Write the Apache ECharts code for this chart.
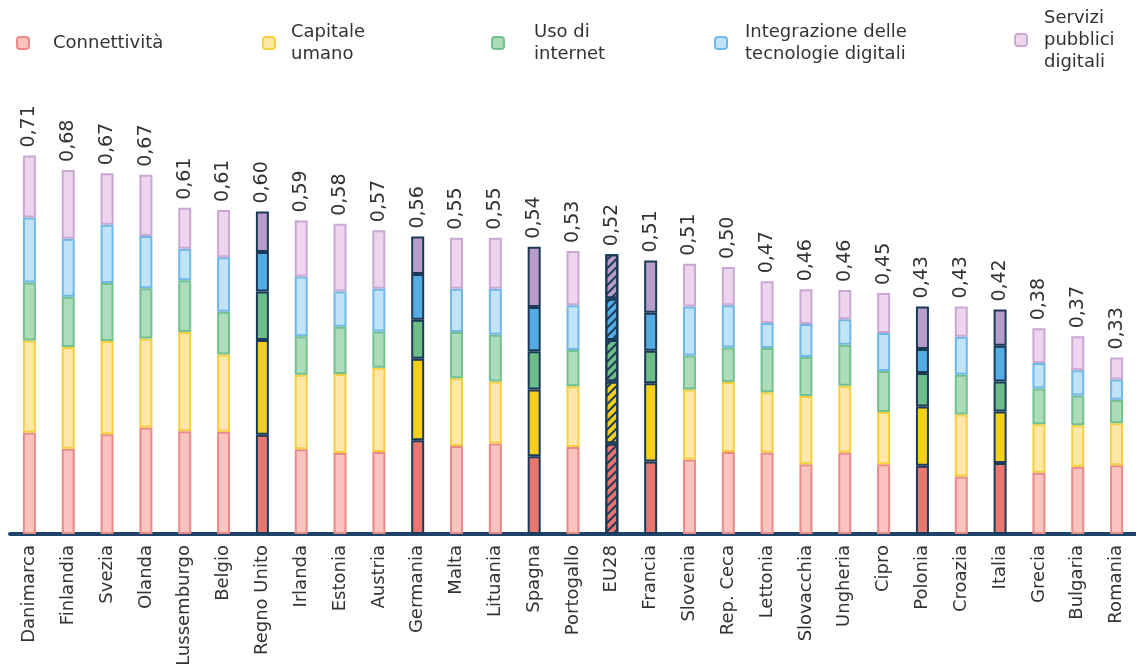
<!DOCTYPE html>
<html>
<head>
<meta charset="utf-8">
<script src="https://cdn.jsdelivr.net/npm/echarts@6.0.0/dist/echarts.min.js"></script>
<style>
  html, body { margin: 0; padding: 0; background: #fff; }
  #chart { width: 1136px; height: 665px; }
</style>
</head>
<body>
<div id="chart"></div>
<script>
// paesi in ordine di punteggio DESI
const categories = ['Danimarca', 'Finlandia', 'Svezia', 'Olanda', 'Lussemburgo', 'Belgio', 'Regno Unito',
  'Irlanda', 'Estonia', 'Austria', 'Germania', 'Malta', 'Lituania', 'Spagna', 'Portogallo', 'EU28',
  'Francia', 'Slovenia', 'Rep. Ceca', 'Lettonia', 'Slovacchia', 'Ungheria', 'Cipro', 'Polonia',
  'Croazia', 'Italia', 'Grecia', 'Bulgaria', 'Romania']

// componenti (stimate dal grafico)
const connettivita = [0.190, 0.160, 0.187, 0.200, 0.193, 0.192, 0.186, 0.159, 0.152, 0.154, 0.176, 0.165, 0.170, 0.146, 0.163,
  0.170, 0.136, 0.140, 0.154, 0.153, 0.131, 0.153, 0.131, 0.128, 0.108, 0.133, 0.115, 0.126, 0.129]
const capitaleUmano = [0.173, 0.191, 0.175, 0.167, 0.186, 0.145, 0.178, 0.140, 0.148, 0.158, 0.153, 0.127, 0.116, 0.125, 0.114,
  0.116, 0.147, 0.131, 0.131, 0.113, 0.128, 0.125, 0.098, 0.111, 0.116, 0.097, 0.091, 0.078, 0.079]
const usoInternet = [0.109, 0.094, 0.109, 0.094, 0.097, 0.080, 0.091, 0.072, 0.089, 0.068, 0.073, 0.087, 0.088, 0.072, 0.068,
  0.078, 0.061, 0.064, 0.065, 0.083, 0.073, 0.077, 0.077, 0.063, 0.075, 0.056, 0.067, 0.056, 0.044]
const integrazione = [0.122, 0.109, 0.109, 0.098, 0.059, 0.102, 0.074, 0.112, 0.066, 0.080, 0.086, 0.081, 0.086, 0.083, 0.084,
  0.078, 0.071, 0.092, 0.079, 0.047, 0.062, 0.048, 0.071, 0.045, 0.071, 0.067, 0.048, 0.047, 0.038]
const serviziPubblici = [0.116, 0.129, 0.097, 0.115, 0.077, 0.089, 0.076, 0.105, 0.127, 0.110, 0.070, 0.096, 0.096, 0.113, 0.102,
  0.083, 0.098, 0.080, 0.072, 0.078, 0.065, 0.055, 0.075, 0.080, 0.057, 0.068, 0.065, 0.064, 0.041]

// totali riportati sopra le barre
const totals = [0.71, 0.68, 0.67, 0.67, 0.61, 0.61, 0.60, 0.59, 0.58, 0.57, 0.56, 0.55, 0.55, 0.54, 0.53, 0.52,
  0.51, 0.51, 0.50, 0.47, 0.46, 0.46, 0.45, 0.43, 0.43, 0.42, 0.38, 0.37, 0.33]

const highlighted = ['Regno Unito', 'Germania', 'Spagna', 'Francia', 'Polonia', 'Italia']
const average = 'EU28'

const FONT = 'DejaVu Sans'
const NAVY = '#1b3a57'

// nome, dati, colore chiaro, bordo, colore pieno
const layers = [
  { name: 'Connettività', data: connettivita, light: '#fbc3c0', border: '#ea8a86', strong: '#ea7670' },
  { name: 'Capitale\numano', data: capitaleUmano, light: '#fee7a9', border: '#f6d03e', strong: '#f6cf1b' },
  { name: 'Uso di\ninternet', data: usoInternet, light: '#acdcba', border: '#74c190', strong: '#6dbd88' },
  { name: 'Integrazione delle\ntecnologie digitali', data: integrazione, light: '#c0e3f8', border: '#70b8e6', strong: '#55abe3' },
  { name: 'Servizi\npubblici\ndigitali', data: serviziPubblici, light: '#edd6ed', border: '#c9a9d3', strong: '#b89dcc' }
]

const buildData = (layer) => layer.data.map((v, i) => {
  const c = categories[i]
  if (highlighted.includes(c)) {
    return { value: v, itemStyle: { color: layer.strong, borderColor: NAVY, borderWidth: 2 } }
  }
  if (c === average) {
    return {
      value: v,
      itemStyle: {
        color: layer.strong, borderColor: NAVY, borderWidth: 2,
        decal: { symbol: 'rect', dashArrayX: [1, 0], dashArrayY: [2, 4], rotation: -Math.PI / 4, color: NAVY }
      }
    }
  }
  return v
})

const series = layers.map((layer, k) => ({
  name: layer.name,
  type: 'bar',
  stack: 'desi',
  barWidth: 13,
  itemStyle: { color: layer.light, borderColor: layer.border, borderWidth: 2 },
  label: k === layers.length - 1 ? {
    show: true,
    position: 'top',
    rotate: 90,
    align: 'left',
    verticalAlign: 'middle',
    distance: 8,
    fontFamily: FONT,
    fontSize: 19,
    color: '#333',
    formatter: (p) => totals[p.dataIndex].toFixed(2).replace('.', ',')
  } : { show: false },
  data: buildData(layer)
}))

// una legenda per voce, posizionate come nell'originale
const legendPos = [
  { left: 16, top: 32, gap: 19 },
  { left: 262, top: 21, gap: 11 },
  { left: 491, top: 21, gap: 25 },
  { left: 714, top: 21, gap: 13 },
  { left: 1014, top: 7, gap: 12 }
]
const legends = layers.map((layer, k) => ({
  data: [layer.name],
  left: legendPos[k].left,
  top: legendPos[k].top,
  padding: 0,
  icon: 'roundRect',
  itemWidth: 12,
  itemHeight: 12,
  selectedMode: false,
  textStyle: { fontFamily: FONT, fontSize: 18, lineHeight: 22, color: '#333', padding: [0, 0, 0, legendPos[k].gap] }
}))

const chart = echarts.init(document.getElementById('chart'))
chart.setOption({
  backgroundColor: '#fff',
  animation: false,
  legend: legends,
  grid: { left: 10, right: 0, top: 1, bottom: 131, outerBoundsMode: 'none' },
  xAxis: {
    type: 'category',
    data: categories,
    axisLine: { lineStyle: { color: '#1d4468', width: 4 } },
    axisTick: { show: false },
    axisLabel: { rotate: 90, margin: 11, fontFamily: FONT, fontSize: 18, color: '#333', interval: 0 }
  },
  yAxis: { type: 'value', min: 0, max: 1, show: false, splitLine: { show: false } },
  series
})
</script>
</body>
</html>
